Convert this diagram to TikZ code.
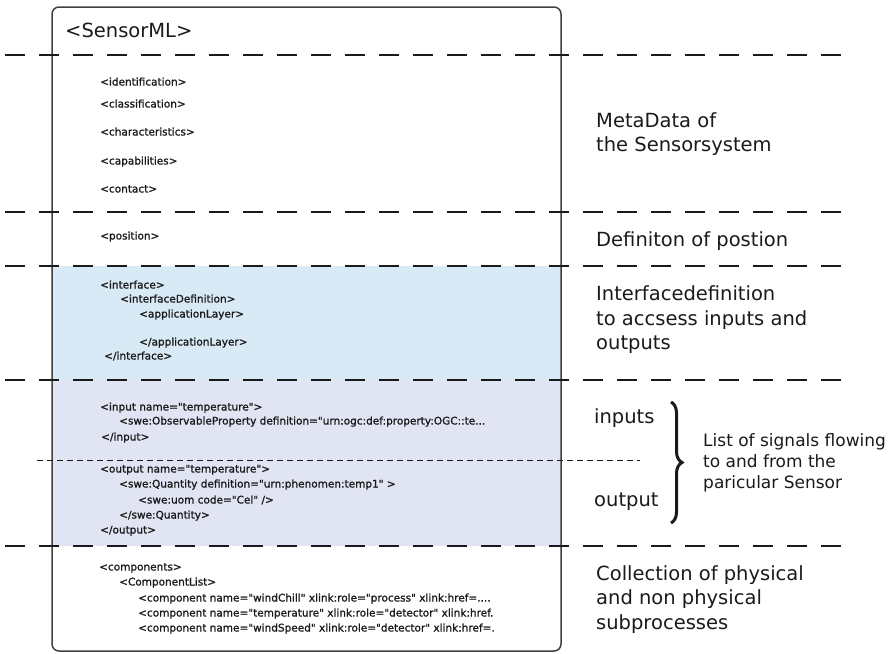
\documentclass[tikz,border=0pt]{standalone}
\usepackage{fontspec}
\setmainfont{DejaVu Sans}[Ligatures=TeXOff]
\newfontfamily\tagfont{DejaVu Sans}[Ligatures=TeXOff,FakeBold=1.2]
\usetikzlibrary{decorations.pathreplacing}
\definecolor{ifaceblue}{HTML}{D9EAF7}
\definecolor{iolav}{HTML}{E1E5F3}
\definecolor{frame}{HTML}{404040}
\definecolor{ink}{HTML}{1A1A1A}

\begin{document}
\begin{tikzpicture}[x=1pt,y=-1pt,
  tag/.style={anchor=base west,inner sep=0pt,font=\tagfont\fontsize{10.5}{12}\selectfont,text=ink},
  head/.style={anchor=base west,inner sep=0pt,font=\fontsize{19.5}{24}\selectfont,text=ink},
  label/.style={anchor=base west,inner sep=0pt,font=\fontsize{19.5}{24}\selectfont,text=ink},
  note/.style={anchor=base west,inner sep=0pt,font=\fontsize{17}{21}\selectfont,text=ink},
  sep/.style={draw=ink,line width=1.2pt,dash pattern=on 20pt off 14pt},
  subsep/.style={draw=ink,line width=1pt,dash pattern=on 6pt off 4pt},
]
\useasboundingbox (0,0) rectangle (890,653);

% section backgrounds
\fill[ifaceblue] (52,266) rectangle (561,380);
\fill[iolav] (52,380) rectangle (561,546);

% document frame
\draw[frame,line width=1.5pt,rounded corners=7pt] (52,7) rectangle (561,651);

% section separators
\draw[sep] (5,55) -- (848,55);
\draw[sep] (5,212) -- (848,212);
\draw[sep] (5,266) -- (852,266);
\draw[sep] (5,380) -- (848,380);
\draw[subsep] (37,460) -- (640,460);
\draw[sep] (5,546) -- (848,546);

% root element
\node[head] (root) at (65,37) {<SensorML>};

% metadata
\node[tag] (ident) at (100,85.5) {<identification>};
\node[tag] (class) at (100,107.5) {<classification>};
\node[tag] (chars) at (100,135.5) {<characteristics>};
\node[tag] (capab) at (100,164.5) {<capabilities>};
\node[tag] (cont) at (100,192.5) {<contact>};

% position
\node[tag] (pos) at (100,239.5) {<position>};

% interface
\node[tag] (if1) at (100,288.5) {<interface>};
\node[tag] (if2) at (120,302.5) {<interfaceDefinition>};
\node[tag] (if3) at (139,317.5) {<applicationLayer>};
\node[tag] (if4) at (139,345.5) {</applicationLayer>};
\node[tag] (if5) at (104,359.5) {</interface>};

% inputs
\node[tag] (in1) at (100,410.5) {<input name="temperature">};
\node[tag] (in2) at (119,424.5) {<swe:ObservableProperty definition="urn:ogc:def:property:OGC::te...};
\node[tag] (in3) at (101,440.5) {</input>};

% outputs
\node[tag] (out1) at (100,472.5) {<output name="temperature">};
\node[tag] (out2) at (119,487.5) {<swe:Quantity definition="urn:phenomen:temp1" >};
\node[tag] (out3) at (138,503.5) {<swe:uom code="Cel" />};
\node[tag] (out4) at (119,518.5) {</swe:Quantity>};
\node[tag] (out5) at (100,533.5) {</output>};

% components
\node[tag] (cmp1) at (99,570.5) {<components>};
\node[tag] (cmp2) at (119,585.5) {<ComponentList>};
\node[tag] (cmp3) at (138,601.5) {<component name="windChill" xlink:role="process" xlink:href=....};
\node[tag] (cmp4) at (138,616.5) {<component name="temperature" xlink:role="detector" xlink:href.};
\node[tag] (cmp5) at (138,631.5) {<component name="windSpeed" xlink:role="detector" xlink:href=.};

% section descriptions
\node[label] (meta1) at (596,127) {MetaData of};
\node[label] (meta2) at (596,151) {the Sensorsystem};
\node[label] (posd) at (596,246) {Definiton of postion};
\node[label] (ifd1) at (596,300) {Interfacedefinition};
\node[label] (ifd2) at (596,325) {to accsess inputs and};
\node[label] (ifd3) at (596,349) {outputs};
\node[label] (inl) at (594,423) {inputs};
\node[label] (outl) at (594,506) {output};
\node[label] (col1) at (596,580) {Collection of physical};
\node[label] (col2) at (596,604) {and non physical};
\node[label] (col3) at (596,629) {subprocesses};

% brace grouping inputs and outputs
\coordinate (bt) at (671,402);
\coordinate (bb) at (671,523);
\draw[ink,line width=3pt,decorate,decoration={brace,amplitude=11pt}] (bt) -- (bb);
\node[note] (sig1) at (703,446) {List of signals flowing};
\node[note] (sig2) at (703,467) {to and from the};
\node[note] (sig3) at (703,488) {paricular Sensor};
\end{tikzpicture}
\end{document}
